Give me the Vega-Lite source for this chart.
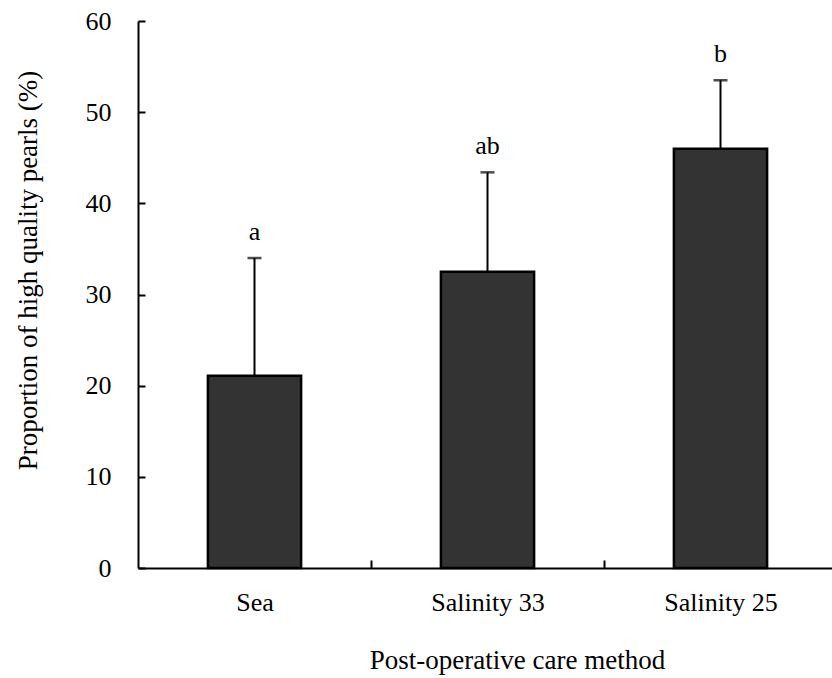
{
  "$schema": "https://vega.github.io/schema/vega-lite/v6.json",
  "autosize": "none",
  "padding": {"left": 138, "top": 21, "right": 0, "bottom": 110},
  "width": 694,
  "height": 547,
  "background": "white",
  "config": {
    "view": {"stroke": null},
    "font": "Liberation Serif",
    "axis": {
      "domainColor": "black",
      "domainWidth": 2,
      "tickColor": "black",
      "tickWidth": 2,
      "labelColor": "black",
      "titleColor": "black",
      "labelFont": "Liberation Serif",
      "titleFont": "Liberation Serif",
      "labelFontSize": 26,
      "titleFontSize": 27,
      "titleFontWeight": "normal",
      "grid": false
    }
  },
  "data": {
    "values": [
      {"method": "Sea", "mean": 21.1, "upper": 34.0, "group": "a"},
      {"method": "Salinity 33", "mean": 32.5, "upper": 43.4, "group": "ab"},
      {"method": "Salinity 25", "mean": 46.0, "upper": 53.5, "group": "b"}
    ]
  },
  "encoding": {
    "x": {
      "field": "method",
      "type": "nominal",
      "sort": null,
      "scale": {"range": [0, 699], "paddingInner": 0.6, "paddingOuter": 0.3},
      "axis": {
        "title": "Post-operative care method",
        "labelAngle": 0,
        "tickOffset": 116.5,
        "labelOffset": -116.5,
        "tickSize": -8,
        "labelPadding": 50,
        "labelBaseline": "alphabetic",
        "titleX": 379,
        "titleY": 100,
        "titleBaseline": "alphabetic",
        "titleAlign": "center",
        "titleAnchor": null
      }
    }
  },
  "layer": [
    {
      "mark": {"type": "bar", "color": "#333333", "stroke": "black", "strokeWidth": 2.5},
      "encoding": {
        "y": {
          "field": "mean",
          "type": "quantitative",
          "scale": {"domain": [0, 60], "nice": false},
          "axis": {
            "title": "Proportion of high quality pearls (%)",
            "values": [0, 10, 20, 30, 40, 50, 60],
            "tickSize": -7,
            "labelPadding": 34,
            "labelBaseline": "middle",
            "titleAngle": -90,
            "titleX": -102,
            "titleY": 249,
            "titleAlign": "center",
            "titleBaseline": "alphabetic",
            "titleAnchor": null
          }
        }
      }
    },
    {
      "mark": {"type": "rule", "color": "black", "strokeWidth": 2},
      "encoding": {
        "y": {"field": "mean", "type": "quantitative"},
        "y2": {"field": "upper"}
      }
    },
    {
      "mark": {"type": "tick", "color": "black", "size": 14, "thickness": 2.5},
      "encoding": {
        "y": {"field": "upper", "type": "quantitative"}
      }
    },
    {
      "mark": {"type": "text", "fontSize": 26, "baseline": "alphabetic", "dy": -18, "color": "black"},
      "encoding": {
        "y": {"field": "upper", "type": "quantitative"},
        "text": {"field": "group"}
      }
    }
  ]
}
